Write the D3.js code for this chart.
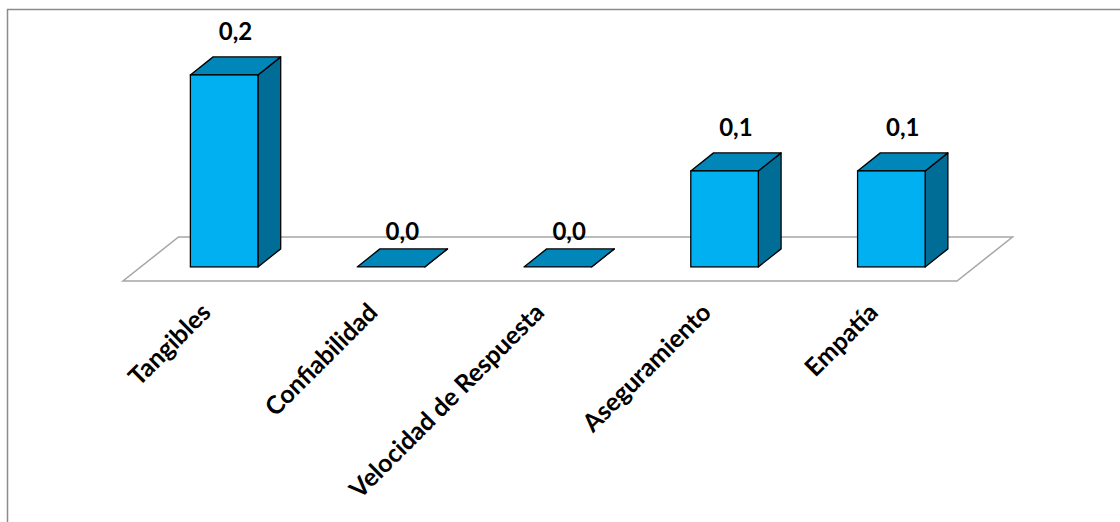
<!DOCTYPE html>
<html>
<head>
<meta charset="utf-8">
<script src="https://cdn.jsdelivr.net/npm/d3@7"></script>
<style>
  html, body { margin: 0; padding: 0; background: #fff; }
  svg { display: block; }
</style>
</head>
<body>
<svg id="chart" width="1120" height="522"></svg>
<script>
const categories = ["Tangibles", "Confiabilidad", "Velocidad de Respuesta", "Aseguramiento", "Empatía"];
const values = [0.2, 0.0, 0.0, 0.1, 0.1];
const valueLabels = ["0,2", "0,0", "0,0", "0,1", "0,1"];

const svg = d3.select("#chart");
const W = 1120, H = 522;

// chart border (top + left visible)
svg.append("path")
  .attr("d", `M7.5,${H} L7.5,9.5 L${W},9.5`)
  .attr("fill", "none")
  .attr("stroke", "#8c8c8c")
  .attr("stroke-width", 1.5);

// floor geometry
const floorFrontY = 281;
const floorLeft = 123, floorRight = 957;
const depth = { dx: 55.5, dy: -44 };
const barDepthFrac = 0.41;   // bar depth as fraction of floor depth
const barOffsetFrac = 0.32;  // bar front position inside the floor depth

const x = d3.scaleBand()
  .domain(categories)
  .range([floorLeft, floorRight])
  .paddingInner(0.595)
  .paddingOuter(0.2975);

const y = d3.scaleLinear().domain([0, 0.2]).range([0, 192]);

// floor
svg.append("path")
  .attr("d", `M${floorLeft},${floorFrontY} L${floorRight},${floorFrontY} L${floorRight + depth.dx},${floorFrontY + depth.dy} L${floorLeft + depth.dx},${floorFrontY + depth.dy} Z`)
  .attr("fill", "#ffffff")
  .attr("stroke", "#a6a6a6")
  .attr("stroke-width", 1.5);

const bdx = depth.dx * barDepthFrac, bdy = depth.dy * barDepthFrac;
const data = categories.map((c, i) => ({ c, v: values[i], label: valueLabels[i] }));

const bars = svg.append("g").selectAll("g").data(data).join("g");

bars.each(function(d) {
  const g = d3.select(this);
  const x0 = x(d.c) + depth.dx * barOffsetFrac;
  const x1 = x0 + x.bandwidth();
  const yb = floorFrontY + depth.dy * barOffsetFrac;
  const yt = yb - y(d.v);
  // side
  g.append("path")
    .attr("d", `M${x1},${yb} L${x1 + bdx},${yb + bdy} L${x1 + bdx},${yt + bdy} L${x1},${yt} Z`)
    .attr("fill", "#006d96").attr("stroke", "#000").attr("stroke-width", 1.3).attr("stroke-linejoin", "round");
  // top
  g.append("path")
    .attr("d", `M${x0},${yt} L${x1},${yt} L${x1 + bdx},${yt + bdy} L${x0 + bdx},${yt + bdy} Z`)
    .attr("fill", "#0086b8").attr("stroke", "#000").attr("stroke-width", 1.3).attr("stroke-linejoin", "round");
  // front
  if (d.v > 0) {
    g.append("rect")
      .attr("x", x0).attr("y", yt).attr("width", x1 - x0).attr("height", yb - yt)
      .attr("fill", "#00b0f0").attr("stroke", "#000").attr("stroke-width", 1.3);
  }
  // value label
  g.append("text")
    .attr("x", (x0 + x1) / 2 + bdx * 0.5)
    .attr("y", yt + bdy - (d.v > 0 ? 16.5 : 9))
    .attr("text-anchor", "middle")
    .attr("font-family", "Lato, 'Open Sans', sans-serif")
    .attr("font-weight", "bold")
    .attr("font-size", 24)
    .attr("fill", "#000")
    .text(d.label);
});

// category labels
svg.append("g").selectAll("text").data(data).join("text")
  .attr("transform", d => {
    const cx = x(d.c) + depth.dx * barOffsetFrac + x.bandwidth() / 2;
    return `translate(${cx - 12},${314}) rotate(-45)`;
  })
  .attr("text-anchor", "end")
  .attr("font-family", "Lato, 'Open Sans', sans-serif")
  .attr("font-weight", "bold")
  .attr("font-size", 25)
  .attr("fill", "#000")
  .text(d => d.c);
</script>
</body>
</html>
